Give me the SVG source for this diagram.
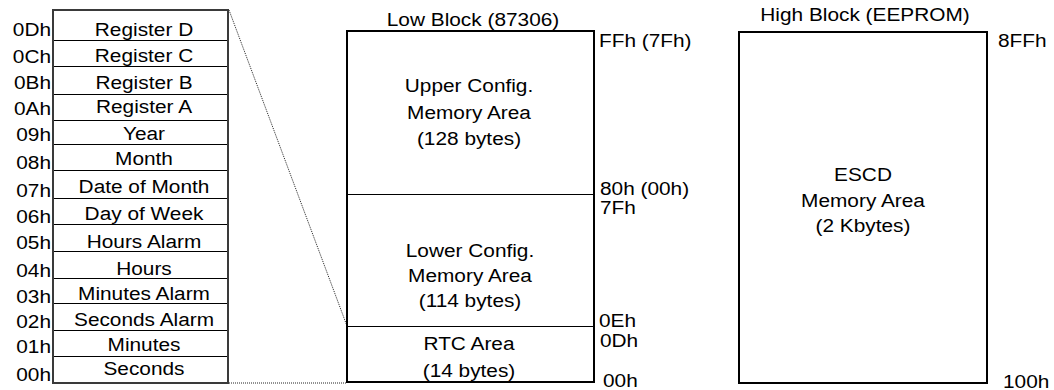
<svg xmlns="http://www.w3.org/2000/svg" width="1054" height="390" viewBox="0 0 1054 390">
<style>
text{font-family:"Liberation Sans",Arial,sans-serif;font-size:18.6px;fill:#000}
.m{text-anchor:middle}
.e{text-anchor:end}
.tbl{fill:#fff;stroke:#3a3a3a;stroke-width:2}
.div{stroke:#000;stroke-width:1}
.blk{fill:#fff;stroke:#000;stroke-width:2}
.dot{stroke:#222;stroke-width:1;stroke-dasharray:1 1;fill:none}
</style>
<rect width="1054" height="390" fill="#fff"/>
<g id="connectors">
<line class="dot" x1="229" y1="10" x2="347" y2="326"/>
<line class="dot" x1="229" y1="383" x2="347" y2="383"/>
</g>
<g id="register-table">
<rect class="tbl" x="53" y="10" width="175" height="373"/>
<g id="r0D"><text class="e" transform="translate(51 36) scale(1.12 1)">0Dh</text><text class="m" transform="translate(144 36) scale(1.12 1)">Register D</text><line class="div" x1="54" y1="40.5" x2="227" y2="40.5"/></g>
<g id="r0C"><text class="e" transform="translate(51 63) scale(1.12 1)">0Ch</text><text class="m" transform="translate(144 62) scale(1.12 1)">Register C</text><line class="div" x1="54" y1="66.5" x2="227" y2="66.5"/></g>
<g id="r0B"><text class="e" transform="translate(51 89) scale(1.12 1)">0Bh</text><text class="m" transform="translate(144 89) scale(1.12 1)">Register B</text><line class="div" x1="54" y1="94.5" x2="227" y2="94.5"/></g>
<g id="r0A"><text class="e" transform="translate(51 115) scale(1.12 1)">0Ah</text><text class="m" transform="translate(144 113) scale(1.12 1)">Register A</text><line class="div" x1="54" y1="120.5" x2="227" y2="120.5"/></g>
<g id="r09"><text class="e" transform="translate(51 141) scale(1.12 1)">09h</text><text class="m" transform="translate(144 140) scale(1.12 1)">Year</text><line class="div" x1="54" y1="144.5" x2="227" y2="144.5"/></g>
<g id="r08"><text class="e" transform="translate(51 169) scale(1.12 1)">08h</text><text class="m" transform="translate(144 165) scale(1.12 1)">Month</text><line class="div" x1="54" y1="170.5" x2="227" y2="170.5"/></g>
<g id="r07"><text class="e" transform="translate(51 197) scale(1.12 1)">07h</text><text class="m" transform="translate(144 193) scale(1.12 1)">Date of Month</text><line class="div" x1="54" y1="198.5" x2="227" y2="198.5"/></g>
<g id="r06"><text class="e" transform="translate(51 223) scale(1.12 1)">06h</text><text class="m" transform="translate(144 220) scale(1.12 1)">Day of Week</text><line class="div" x1="54" y1="224.5" x2="227" y2="224.5"/></g>
<g id="r05"><text class="e" transform="translate(51 249) scale(1.12 1)">05h</text><text class="m" transform="translate(144 248) scale(1.12 1)">Hours Alarm</text><line class="div" x1="54" y1="251.5" x2="227" y2="251.5"/></g>
<g id="r04"><text class="e" transform="translate(51 277) scale(1.12 1)">04h</text><text class="m" transform="translate(144 275) scale(1.12 1)">Hours</text><line class="div" x1="54" y1="278.5" x2="227" y2="278.5"/></g>
<g id="r03"><text class="e" transform="translate(51 303) scale(1.12 1)">03h</text><text class="m" transform="translate(144 300) scale(1.12 1)">Minutes Alarm</text><line class="div" x1="54" y1="303.5" x2="227" y2="303.5"/></g>
<g id="r02"><text class="e" transform="translate(51 328) scale(1.12 1)">02h</text><text class="m" transform="translate(144 326) scale(1.12 1)">Seconds Alarm</text><line class="div" x1="54" y1="330.5" x2="227" y2="330.5"/></g>
<g id="r01"><text class="e" transform="translate(51 353) scale(1.12 1)">01h</text><text class="m" transform="translate(144 351) scale(1.12 1)">Minutes</text><line class="div" x1="54" y1="356.5" x2="227" y2="356.5"/></g>
<g id="r00"><text class="e" transform="translate(51 381) scale(1.12 1)">00h</text><text class="m" transform="translate(144 375) scale(1.12 1)">Seconds</text></g>
</g>
<g id="low-block">
<text class="m" transform="translate(473 26) scale(1.12 1)">Low Block (87306)</text>
<rect class="blk" x="347" y="31" width="247" height="351"/>
<line class="div" x1="348" y1="194.5" x2="593" y2="194.5"/>
<line class="div" x1="348" y1="326.5" x2="593" y2="326.5"/>
<text class="m" transform="translate(469 92) scale(1.12 1)">Upper Config.</text>
<text class="m" transform="translate(469 119) scale(1.12 1)">Memory Area</text>
<text class="m" transform="translate(469 145) scale(1.12 1)">(128 bytes)</text>
<text class="m" transform="translate(470 257) scale(1.12 1)">Lower Config.</text>
<text class="m" transform="translate(470 282) scale(1.12 1)">Memory Area</text>
<text class="m" transform="translate(470 307) scale(1.12 1)">(114 bytes)</text>
<text class="m" transform="translate(469 350) scale(1.12 1)">RTC Area</text>
<text class="m" transform="translate(469 377) scale(1.12 1)">(14 bytes)</text>
<text transform="translate(599 47) scale(1.12 1)">FFh (7Fh)</text>
<text transform="translate(600 195) scale(1.12 1)">80h (00h)</text>
<text transform="translate(600 214) scale(1.12 1)">7Fh</text>
<text transform="translate(599 327) scale(1.12 1)">0Eh</text>
<text transform="translate(600 347) scale(1.12 1)">0Dh</text>
<text transform="translate(603 387) scale(1.12 1)">00h</text>
</g>
<g id="high-block">
<text class="m" transform="translate(865 21) scale(1.12 1)">High Block (EEPROM)</text>
<rect class="blk" x="739" y="32" width="248" height="351"/>
<text class="m" transform="translate(863 181) scale(1.12 1)">ESCD</text>
<text class="m" transform="translate(863 207) scale(1.12 1)">Memory Area</text>
<text class="m" transform="translate(863 232) scale(1.12 1)">(2 Kbytes)</text>
<text transform="translate(998 47) scale(1.12 1)">8FFh</text>
<text transform="translate(1003 388) scale(1.12 1)">100h</text>
</g>
</svg>
